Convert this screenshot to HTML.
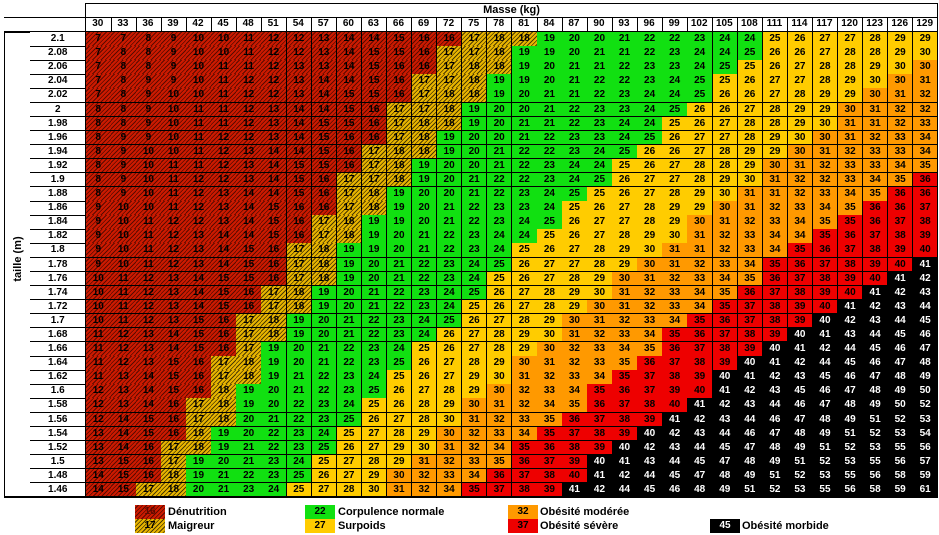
<!DOCTYPE html><html><head><meta charset="utf-8"><style>
body{margin:0;width:939px;height:535px;background:#fff;font-family:"Liberation Sans",sans-serif;font-weight:bold;position:relative;overflow:hidden}
.c{position:absolute;box-sizing:border-box;border-right:1px solid #000;border-bottom:1px solid #000;font-size:10px;text-align:center;line-height:13px}
.h1{background:repeating-linear-gradient(135deg,#cc1a00 0 2px,#5a0a00 2px 3px)}
.h2{background:repeating-linear-gradient(135deg,#e8b400 0 2px,#4a3a00 2px 3px)}
.g{background:#11e011}.y{background:#ffcc00}.o{background:#ff9900}.r{background:#ee0000}.k{background:#000;color:#fff}
.lg{position:absolute;font-size:11px;line-height:13px}
</style></head><body>
<div style="position:absolute;left:85px;top:3px;width:853px;height:14px;border:1px solid #000;border-bottom:none;box-sizing:border-box;text-align:center;font-size:11px;line-height:13px">Masse (kg)</div>
<div style="position:absolute;left:4px;top:32px;width:26px;height:465px;border:1px solid #000;border-right:none;box-sizing:border-box"><div style="position:absolute;left:-20px;top:220px;width:66px;transform:rotate(-90deg);font-size:11px;text-align:center">taille (m)</div></div>
<div id="t"></div>
<div class="c h1" style="left:135px;top:505px;width:30px;height:14px;border:none;color:#5a0a00">16</div>
<div class="c h2" style="left:135px;top:519px;width:30px;height:14px;border:none">17</div>
<div class="lg" style="left:168px;top:506px">Dénutrition</div><div class="lg" style="left:168px;top:520px">Maigreur</div>
<div class="c g" style="left:305px;top:505px;width:30px;height:14px;border:none">22</div>
<div class="c y" style="left:305px;top:519px;width:30px;height:14px;border:none">27</div>
<div class="lg" style="left:338px;top:506px">Corpulence normale</div><div class="lg" style="left:338px;top:520px">Surpoids</div>
<div class="c o" style="left:508px;top:505px;width:30px;height:14px;border:none">32</div>
<div class="c r" style="left:508px;top:519px;width:30px;height:14px;border:none">37</div>
<div class="lg" style="left:540px;top:506px">Obésité modérée</div><div class="lg" style="left:540px;top:520px">Obésité sévère</div>
<div class="c k" style="left:710px;top:519px;width:30px;height:14px;border:none">45</div>
<div class="lg" style="left:742px;top:520px">Obésité morbide</div>
<script>
var h='',X0=86,W=(938-86)/34,Y0=32,H=(497-32)/33;
function cell(x,y,w,hh,cls,t){h+='<div class="c '+cls+'" style="left:'+x.toFixed(1)+'px;top:'+y.toFixed(1)+'px;width:'+(w+0.5).toFixed(1)+'px;height:'+(hh+0.5).toFixed(1)+'px">'+t+'</div>';}
for(var i=0;i<34;i++)cell(X0+i*W-1,17,W+1,15,'',30+3*i);
h+='<div style="position:absolute;left:85px;top:17px;width:1px;height:480px;background:#000"></div>';
for(var j=0;j<33;j++){var ht=(2.1-0.02*j);var y=Y0+j*H;
cell(30,y,56,H,'',(Math.round(ht*100)/100).toString());
for(var i=0;i<34;i++){var m=30+3*i,b=m/(ht*ht),c;
c=b<16.5?'h1':b<18.5?'h2':b<25?'g':b<30?'y':b<35?'o':b<40?'r':'k';
cell(X0+i*W,y,W,H,c,Math.round(b));}}
document.getElementById('t').innerHTML=h;
</script>
<div style="position:absolute;left:4px;top:17px;width:934px;height:1px;background:#000"></div>
<div style="position:absolute;left:4px;top:31px;width:934px;height:1px;background:#000"></div>
<div style="position:absolute;left:4px;top:496px;width:934px;height:2px;background:#000"></div>
<div style="position:absolute;left:937px;top:3px;width:1px;height:494px;background:#000"></div>
</body></html>
